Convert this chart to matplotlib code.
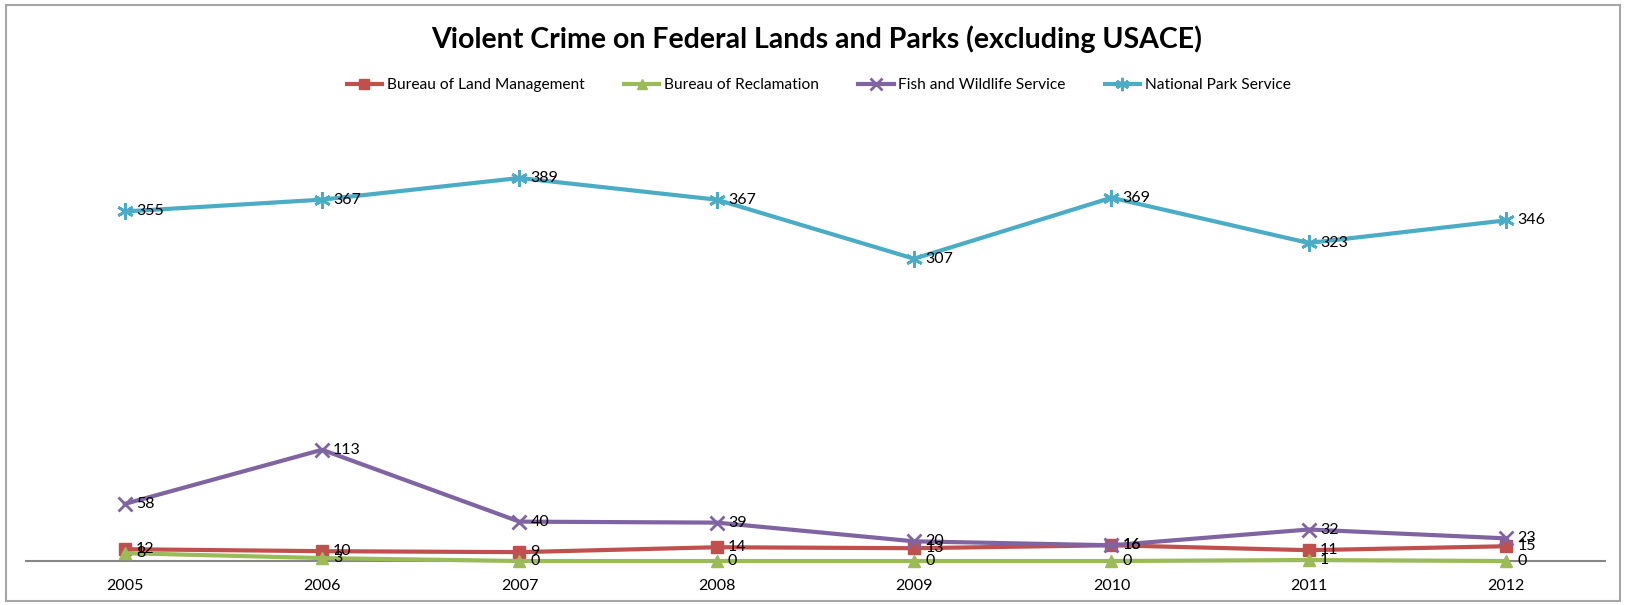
#Violent crime on federal lands, line chart with data labels
import matplotlib
matplotlib.use('Agg')
import matplotlib.pyplot as plt
from matplotlib.patches import Rectangle

plt.rcParams['font.family'] = ['Lato', 'DejaVu Sans']

#Data
years = ['2005', '2006', '2007', '2008', '2009', '2010', '2011', '2012']
blm = [12, 10, 9, 14, 13, 16, 11, 15]
bor = [8, 3, 0, 0, 0, 0, 1, 0]
fws = [58, 113, 40, 39, 20, 16, 32, 23]
nps = [355, 367, 389, 367, 307, 369, 323, 346]

series = [
    ('Bureau of Land Management', blm, '#C0504D', 's', 9),
    ('Bureau of Reclamation', bor, '#9BBB59', '^', 9),
    ('Fish and Wildlife Service', fws, '#8064A2', 'x', 10),
    ('National Park Service', nps, '#4BACC6', (6, 2, 0), 12),
]

fig = plt.figure(figsize=(16.26, 6.05), dpi=100)
ax = fig.add_axes([0.016, 0.0727, 0.971, 0.651])

x = list(range(len(years)))
for name, vals, col, mk, ms in series:
    ax.plot(x, vals, color=col, lw=3, marker=mk, markersize=ms,
            markeredgewidth=2 if mk in ('x',) or isinstance(mk, tuple) else 1,
            markeredgecolor=col, label=name, clip_on=False, zorder=3)
    for xi, v in zip(x, vals):
        ax.annotate(str(v), (xi, v), xytext=(8, 0), textcoords='offset points',
                    va='center', ha='left', fontsize=11.5, color='black', zorder=4)

ax.set_xlim(-0.5, len(years) - 0.5)
ax.set_ylim(0, 400)
ax.set_xticks(x)
ax.set_xticklabels(years, fontsize=11.5)
ax.tick_params(axis='x', length=0, pad=13)
ax.set_yticks([])
for s in ['top', 'right', 'left']:
    ax.spines[s].set_visible(False)
ax.spines['bottom'].set_color('#868686')
ax.spines['bottom'].set_linewidth(1.5)
ax.patch.set_alpha(0)

fig.text(0.502, 0.935, 'Violent Crime on Federal Lands and Parks (excluding USACE)',
         ha='center', va='center', fontsize=20.5, fontweight='bold')
fig.legend(loc='center', bbox_to_anchor=(0.5035, 0.859), ncol=4, frameon=False,
           fontsize=11.2, handlelength=2.3, handletextpad=0.3, columnspacing=2.5,
           markerscale=0.8)

#chart border
fig.patches.append(Rectangle((6 / 1626, 4 / 605), 1614 / 1626, 596 / 605,
                             transform=fig.transFigure, fill=False,
                             edgecolor='#A6A6A6', lw=1.5))

plt.savefig('out.png', dpi=100)
